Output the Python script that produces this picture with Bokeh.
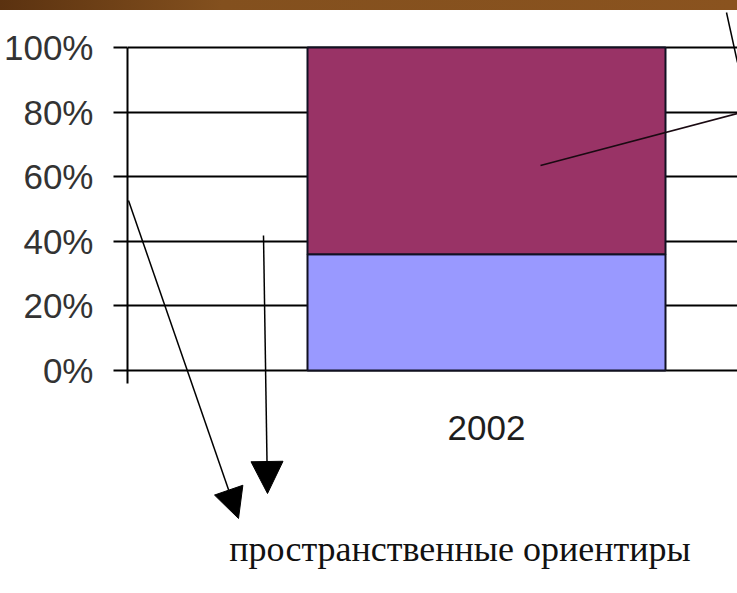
from bokeh.plotting import figure
from bokeh.layouts import column
from bokeh.models import Range1d, FixedTicker, Label, Arrow, NormalHead, ColumnDataSource, Div
from bokeh.core.properties import value
from bokeh.embed import file_html
from bokeh.resources import INLINE

# ---- data ----
categories = ["2002"]
lower_share = [36]    # % (light blue segment)
upper_share = [64]    # % (maroon segment)
tick_values = [0, 20, 40, 60, 80, 100]
tick_labels = ["0%", "20%", "40%", "60%", "80%", "100%"]
caption = "пространственные ориентиры"

# ---- layout geometry (page pixels) ----
W, H = 737, 593
BAND = 10             # brown band height above the figure
FRAME_L = 127
Y0_PX, Y100_PX = 370, 47
BAR_L_PX, BAR_R_PX = 307, 665
bar_width = 1.0
ppu_y = (Y0_PX - Y100_PX) / 100.0
ppu_x = (BAR_R_PX - BAR_L_PX) / bar_width
bar_center_px = (BAR_L_PX + BAR_R_PX) / 2.0


def dx(px):
    return (px - bar_center_px) / ppu_x


def dy(py):
    return (Y0_PX - py) / ppu_y


band = Div(text="", width=W, height=BAND, margin=(0, 0, 0, 0),
           styles={"background": "linear-gradient(90deg, #5b3210 0%, #83501e 30%, #8a531f 100%)"})

p = figure(width=W, height=H - BAND, output_backend="svg", toolbar_location=None,
           x_range=Range1d(dx(FRAME_L), dx(W)), y_range=Range1d(dy(H), dy(BAND)),
           x_axis_location=None, min_border_left=FRAME_L, min_border_right=0,
           min_border_top=0, min_border_bottom=0)
p.margin = (0, 0, 0, 0)
p.outline_line_color = None
p.background_fill_color = "white"
p.border_fill_color = "white"
p.xgrid.visible = False

src = ColumnDataSource(dict(x=list(range(len(categories))), cat=categories,
                            low=lower_share, high=upper_share))

p.vbar_stack(["low", "high"], x="x", width=bar_width, source=src,
             fill_color=["#9999FF", "#993366"], line_color="#111122", line_width=2)

ax = p.yaxis[0]
ax.ticker = FixedTicker(ticks=tick_values)
ax.major_label_overrides = {v: l for v, l in zip(tick_values, tick_labels)}
ax.bounds = (dy(383), 100)
ax.axis_line_color = "black"
ax.axis_line_width = 2
ax.major_tick_in = 0
ax.major_tick_out = 14
ax.major_tick_line_width = 2
ax.major_tick_line_color = "black"
ax.minor_tick_line_color = None
ax.major_label_text_font = "Liberation Sans"
ax.major_label_text_font_size = "35px"
ax.major_label_text_color = "#333333"
ax.major_label_standoff = 20

p.ygrid.grid_line_color = "black"
p.ygrid.grid_line_width = 2
p.ygrid.grid_line_alpha = 1.0

# category label under the bar
p.text(x="x", y=0, text="cat", source=src, y_offset=57, text_align="center",
       text_baseline="middle", text_font=value("Liberation Sans"),
       text_font_size="35px", text_color="#1e1e1e")

# caption
p.add_layout(Label(x=dx(459.5), y=dy(548), text=caption, text_align="center",
                   text_baseline="middle", text_font="Liberation Serif",
                   text_font_size="36px", text_color="#111111"))

# pointer arrows / leader lines
p.add_layout(Arrow(x_start=dx(128), y_start=dy(200), x_end=dx(238), y_end=dy(518),
                   line_width=1.5, line_color="black",
                   end=NormalHead(size=30, fill_color="black", line_color="black")))
p.add_layout(Arrow(x_start=dx(263), y_start=dy(235), x_end=dx(267), y_end=dy(493),
                   line_width=1.5, line_color="black",
                   end=NormalHead(size=32, fill_color="black", line_color="black")))
p.add_layout(Arrow(x_start=dx(540), y_start=dy(165), x_end=dx(737), y_end=dy(113),
                   line_width=1.5, line_color="#1a0a12", end=None))
p.add_layout(Arrow(x_start=dx(726), y_start=dy(12), x_end=dx(737), y_end=dy(62),
                   line_width=1.5, line_color="black", end=None))

layout = column(band, p, spacing=0, margin=(0, 0, 0, 0))

open("out.html", "w").write(file_html(layout, INLINE))
